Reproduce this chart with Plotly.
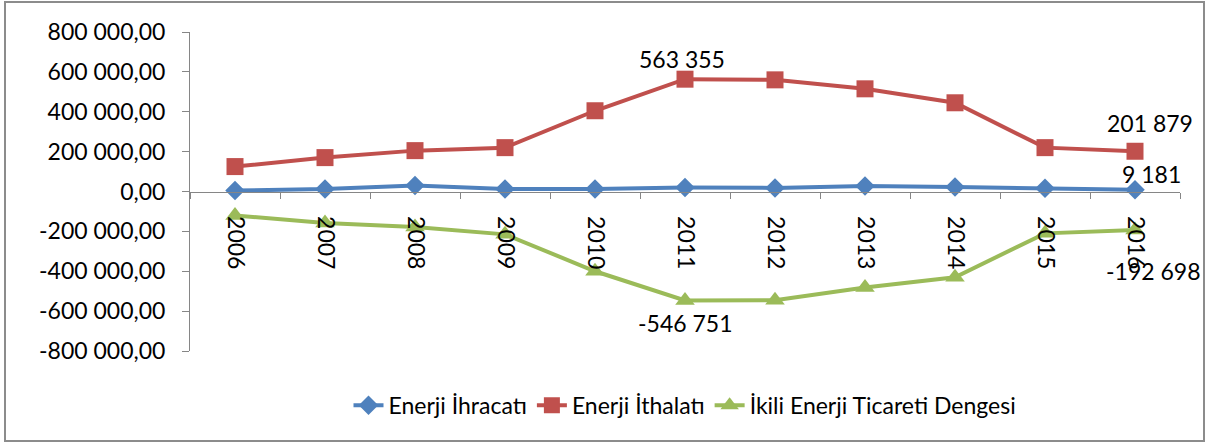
import plotly.graph_objects as go

years = ["2006", "2007", "2008", "2009", "2010", "2011", "2012", "2013", "2014", "2015", "2016"]
exports = [5000, 12000, 30000, 13000, 13000, 20000, 18000, 27000, 22000, 16000, 9181]
imports = [125000, 170000, 205000, 220000, 405000, 563355, 560000, 515000, 445000, 220000, 201879]
balance = [-120000, -158000, -178000, -215000, -400000, -546751, -545000, -482000, -430000, -210000, -192698]

y_ticks = [800000, 600000, 400000, 200000, 0, -200000, -400000, -600000, -800000]

_FONT = "Lato, 'Liberation Sans', sans-serif"


def _fmt_int(value: float) -> str:
    return f"{value:,.0f}".replace(",", " ")


def _fmt_tick(value: float) -> str:
    return f"{value:,.2f}".replace(",", " ").replace(".", ",")


series = (
    ("Enerji İhracatı", exports, "#4F81BD", "diamond", 15),
    ("Enerji İthalatı", imports, "#C0504D", "square", 17),
    ("İkili Enerji Ticareti Dengesi", balance, "#9BBB59", "triangle-up", 17),
)

fig = go.Figure()
for name, values, color, symbol, size in series:
    fig.add_trace(
        go.Scatter(
            x=years,
            y=values,
            name=name,
            legendgroup=name,
            mode="lines+markers",
            line={"color": color, "width": 4},
            marker={"color": color, "symbol": symbol, "size": size},
        )
    )

# Data labels: (series values, category index, x shift, y shift downwards)
labels = [
    (imports, 5, -3, -20),
    (imports, 10, 15, -28),
    (exports, 10, 16, -16),
    (balance, 5, 0, 22),
    (balance, 10, 18, 41),
]
annotations = [
    {
        "x": i,
        "y": values[i],
        "xref": "x",
        "yref": "y",
        "text": _fmt_int(values[i]),
        "showarrow": False,
        "xshift": dx,
        "yshift": -dy,
        "font": {"size": 23, "color": "#000000", "family": _FONT},
    }
    for values, i, dx, dy in labels
]

fig.update_layout(
    width=1208,
    height=445,
    paper_bgcolor="white",
    plot_bgcolor="white",
    margin={"l": 190, "r": 28, "t": 32, "b": 94},
    font={"family": _FONT, "color": "#000000"},
    showlegend=True,
    legend={
        "orientation": "h",
        "x": 0.5,
        "xanchor": "center",
        "y": -0.17,
        "yanchor": "middle",
        "font": {"size": 23},
        "traceorder": "grouped",
        "tracegroupgap": 30,
    },
    xaxis={
        "type": "category",
        "anchor": "free",
        "position": 0.5,
        "range": [-0.5, 10.5],
        "tickson": "boundaries",
        "ticks": "outside",
        "ticklen": 6,
        "tickcolor": "#868686",
        "showline": True,
        "linecolor": "#868686",
        "linewidth": 1,
        "showgrid": False,
        "tickangle": 90,
        "tickfont": {"size": 23},
        "ticklabelstandoff": 19,
    },
    yaxis={
        "range": [-800000, 800000],
        "tickvals": y_ticks,
        "ticktext": [_fmt_tick(v) for v in y_ticks],
        "ticks": "outside",
        "ticklen": 7,
        "tickcolor": "#868686",
        "showline": True,
        "linecolor": "#868686",
        "linewidth": 1,
        "showgrid": False,
        "zeroline": False,
        "tickfont": {"size": 23},
        "ticklabelstandoff": 12,
    },
    annotations=annotations,
    shapes=[
        {
            "type": "rect",
            "xref": "paper",
            "yref": "paper",
            "x0": (5 - 190) / 990,
            "x1": (1204 - 190) / 990,
            "y0": (351 - 441) / 319,
            "y1": (351 - 2) / 319,
            "line": {"color": "#8c8c8c", "width": 2},
        }
    ],
)

fig.write_html(
    "out.html",
    config={"displayModeBar": False},
    post_script="document.body.style.margin = '0';",
)
